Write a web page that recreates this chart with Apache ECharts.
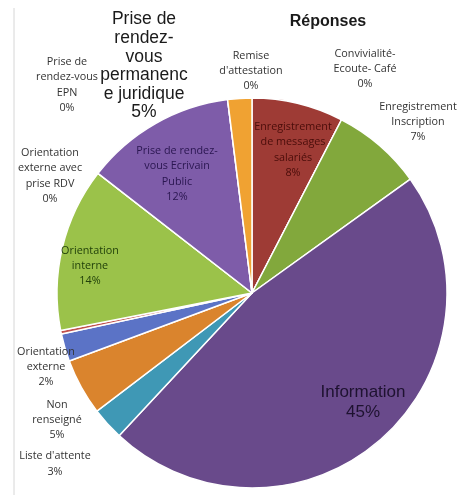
<!DOCTYPE html>
<html>
<head>
<meta charset="utf-8">
<script src="https://cdn.jsdelivr.net/npm/echarts@6/dist/echarts.min.js"></script>
<style>html,body{margin:0;padding:0;background:#fff}#c{width:466px;height:502px}</style>
</head>
<body>
<div id="c"></div>
<script>
// Categories, clockwise from 12 o'clock
const categories = [
  "Enregistrement\nde messages\nsalariés",
  "Convivialité-\nEcoute- Café",
  "Enregistrement\nInscription",
  "Information",
  "Liste d'attente",
  "Non\nrenseigné",
  "Orientation\nexterne",
  "Orientation\nexterne avec\nprise RDV",
  "Orientation\ninterne",
  "Prise de\nrendez-vous\nEPN",
  "Prise de rendez-\nvous Ecrivain\nPublic",
  "Prise de\nrendez-\nvous\npermanenc\ne juridique",
  "Remise\nd'attestation"
];
// Slice sizes as drawn (share of the circle, %)
const sliceValues = [7.6, 0, 7.5, 46.9, 2.7, 4.7, 2.3, 0.3, 13.6, 0, 12.5, 0, 2.0];
// Percent labels as printed
const percentLabels = ["8%", "0%", "7%", "45%", "3%", "5%", "2%", "0%", "14%", "0%", "12%", "5%", "0%"];

const colors = ["#9e3b35", "#c0504d", "#82a83c", "#694a8b", "#3f98b5", "#da842d", "#5b73c6", "#c0504d", "#9bc24a", "#8064a2", "#7e5ca9", "#8064a2", "#f0a232"];
const labelPos = [
  [293, 150], [365, 69], [418, 122], [363, 402], [55, 464], [57, 420], [46, 367],
  [50, 176], [90, 266], [67, 85], [177, 174], [144, 66], [251, 71]
];
const smallFont = {fontFamily: "Open Sans", fontSize: 10.8, lineHeight: 15.3, color: "#333333"};
const bigFont = {fontFamily: "Liberation Sans", fontSize: 17.5, lineHeight: 18.6, color: "#1a1a1a"};
const labelStyles = [
  Object.assign({}, smallFont, {color: "#4a0d0a"}),
  smallFont, smallFont,
  Object.assign({}, bigFont, {color: "#1e1230", lineHeight: 20, fontSize: 17}),
  smallFont, smallFont, smallFont, smallFont,
  Object.assign({}, smallFont, {color: "#21400a"}),
  smallFont,
  Object.assign({}, smallFont, {color: "#2a1650"}),
  bigFont, smallFont
];

const data = categories.map((name, i) => ({
  name: name,
  value: sliceValues[i],
  itemStyle: {color: colors[i]},
  label: Object.assign({show: true}, labelStyles[i])
}));

const chart = echarts.init(document.getElementById('c'));
chart.setOption({
  animation: false,
  title: {
    text: "Réponses", left: 323, top: 9, textAlign: "center",
    textStyle: {fontFamily: "Liberation Sans", fontSize: 16, fontWeight: "bold", color: "#1a1a1a"}
  },
  graphic: [{
    type: "line", shape: {x1: 14, y1: 8, x2: 14, y2: 495},
    style: {stroke: "#d6d6d6", lineWidth: 1}
  }],
  series: [{
    type: "pie",
    center: [252, 293],
    radius: 195,
    startAngle: 90,
    clockwise: true,
    minAngle: 0,
    avoidLabelOverlap: false,
    itemStyle: {borderColor: "#ffffff", borderWidth: 1.5},
    label: {
      show: true,
      formatter: p => categories[p.dataIndex] + "\n" + percentLabels[p.dataIndex],
      align: "center"
    },
    labelLine: {show: false},
    labelLayout: p => ({
      x: labelPos[p.dataIndex][0],
      y: labelPos[p.dataIndex][1],
      align: "center",
      verticalAlign: "middle",
      hideOverlap: false
    }),
    emphasis: {disabled: true},
    data: data
  }]
});
</script>
</body>
</html>
